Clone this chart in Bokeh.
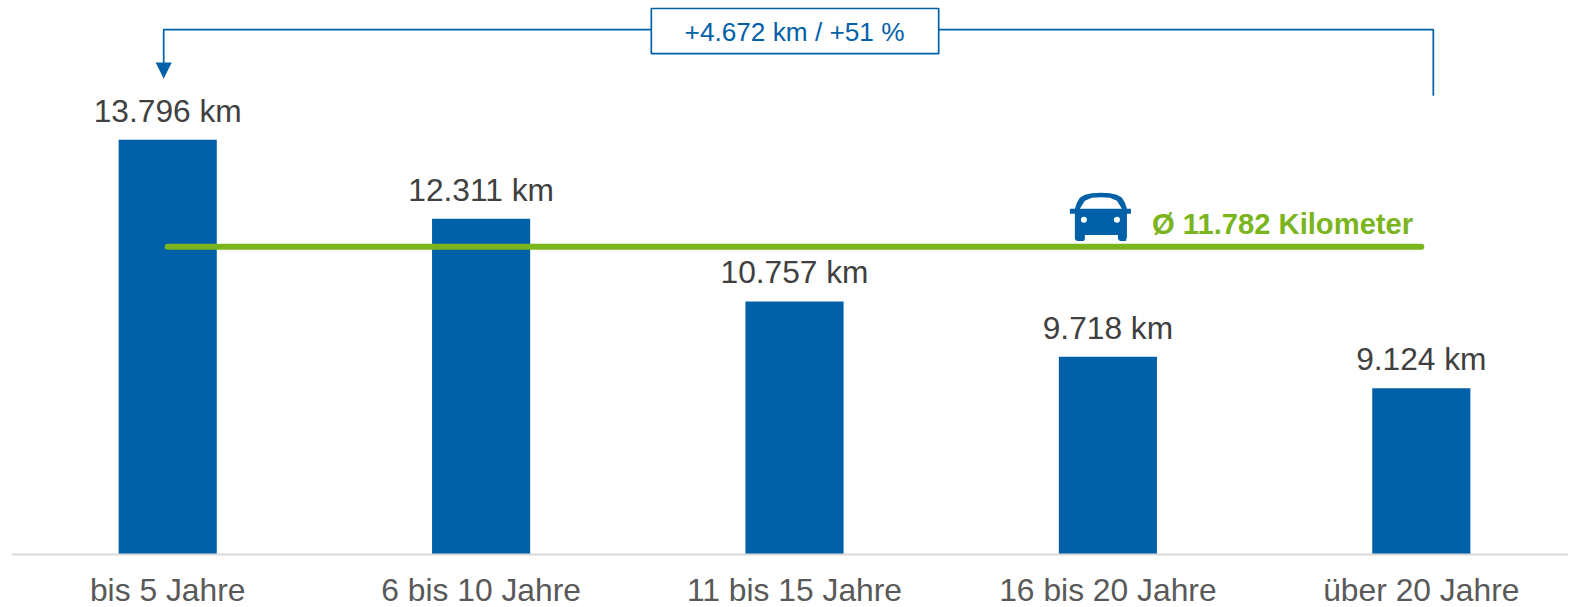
from bokeh.plotting import figure
from bokeh.embed import file_html
from bokeh.resources import INLINE
from bokeh.models import Range1d, FixedTicker
from bokeh.core.properties import value

categories = ["bis 5 Jahre", "6 bis 10 Jahre", "11 bis 15 Jahre", "16 bis 20 Jahre", "über 20 Jahre"]
km = [13796, 12311, 10757, 9718, 9124]
km_labels = ["13.796 km", "12.311 km", "10.757 km", "9.718 km", "9.124 km"]
average = 11782
average_label = "Ø 11.782 Kilometer"
delta_label = "+4.672 km / +51 %"

BLUE = "#0060A8"
GREEN = "#7AB51D"
W, H = 1570, 607
SX, SY = 1570 / 1568, 607 / 606  # pixel readings were taken from the shrunk view
LEFT, RIGHT = 11, 2
BASE_Y = 553 * SY  # pixel row of the axis
PX_PER_KM = 414 * SY / (13796 - 6000)
AXIS_BASE = 6000
STEP = 313 * SX
CENTER0 = 167 * SX

xs = list(range(5))
frame_w = W - LEFT - RIGHT
x0 = (LEFT - CENTER0) / STEP
x1 = x0 + frame_w / STEP
y0 = AXIS_BASE - (H - BASE_Y) / PX_PER_KM
y1 = AXIS_BASE + BASE_Y / PX_PER_KM

p = figure(width=W, height=H, output_backend="svg", toolbar_location=None,
           x_range=Range1d(x0, x1), y_range=Range1d(y0, y1),
           min_border_left=LEFT, min_border_right=RIGHT, min_border_top=0, min_border_bottom=0)
p.outline_line_color = None
p.grid.visible = False
p.yaxis.visible = False
ax = p.xaxis[0]
ax.fixed_location = AXIS_BASE
ax.ticker = FixedTicker(ticks=xs)
ax.major_label_overrides = dict(zip(xs, categories))
ax.major_tick_line_color = None
ax.minor_tick_line_color = None
ax.major_tick_out = 0
ax.minor_tick_out = 0
ax.axis_line_color = "#D9D9D9"
ax.axis_line_width = 2
ax.major_label_text_font = "Liberation Sans"
ax.major_label_text_font_size = "31.8px"
ax.major_label_text_color = "#595959"
ax.major_label_standoff = 18


def fx(px):
    return x0 + (px * SX - LEFT) / STEP


def fy(py):
    return AXIS_BASE + (BASE_Y - py * SY) / PX_PER_KM


p.vbar(x=xs, top=km, bottom=AXIS_BASE, width=98 / 313, fill_color=BLUE, line_color=None)
p.text(x=xs, y=km, text=km_labels, text_font=value("Liberation Sans"), text_font_size="31.7px",
       text_color="#404040", text_align="center", text_baseline="bottom", y_offset=-11)

p.line([fx(167), fx(1419)], [average, average], line_color=GREEN, line_width=6, line_cap="round")
p.text(x=[fx(1150)], y=[average], text=[average_label], text_font=value("Liberation Sans"),
       text_font_style="bold", text_font_size="29.2px", text_color=GREEN, text_baseline="bottom", y_offset=-7)

# bracket
p.line([fx(163), fx(163), fx(1431), fx(1431)], [fy(65), fy(29), fy(29), fy(95)], line_color=BLUE, line_width=1.7)
p.patch([fx(155), fx(171), fx(163)], [fy(62), fy(62), fy(78)], fill_color=BLUE, line_color=None)
p.quad(left=[fx(650)], right=[fx(937)], top=[fy(8)], bottom=[fy(53)], fill_color="white", line_color=BLUE, line_width=1.7)
p.text(x=[fx(793)], y=[fy(31.5)], text=[delta_label], text_font=value("Liberation Sans"), text_font_size="26.2px",
       text_color=BLUE, text_align="center", text_baseline="middle")

# car icon
car_x = [1068, 1073, 1075, 1078, 1083, 1090, 1099, 1108, 1115, 1120, 1123, 1125, 1129, 1129, 1125, 1125, 1125, 1124, 1118, 1116, 1116, 1083, 1083, 1082, 1075, 1073, 1073, 1073, 1073, 1068]
car_y = [208, 208, 202, 197, 194, 192.5, 192, 192.5, 194, 197, 202, 208, 208, 213, 213, 232, 236, 240, 240, 238, 234, 234, 238, 240, 240, 238, 236, 232, 213, 213]
p.patch([fx(v) for v in car_x], [fy(v) for v in car_y], fill_color=BLUE, line_color=None)
win_x = [1078, 1083, 1090, 1099, 1108, 1115, 1120]
win_y = [208, 200, 197, 196.5, 197, 200, 208]
p.patch([fx(v) for v in win_x], [fy(v) for v in win_y], fill_color="white", line_color=None)
p.scatter([fx(1082), fx(1115)], [fy(219), fy(219)], size=6, fill_color="white", line_color=None)

open("out.html", "w").write(file_html(p, INLINE))
